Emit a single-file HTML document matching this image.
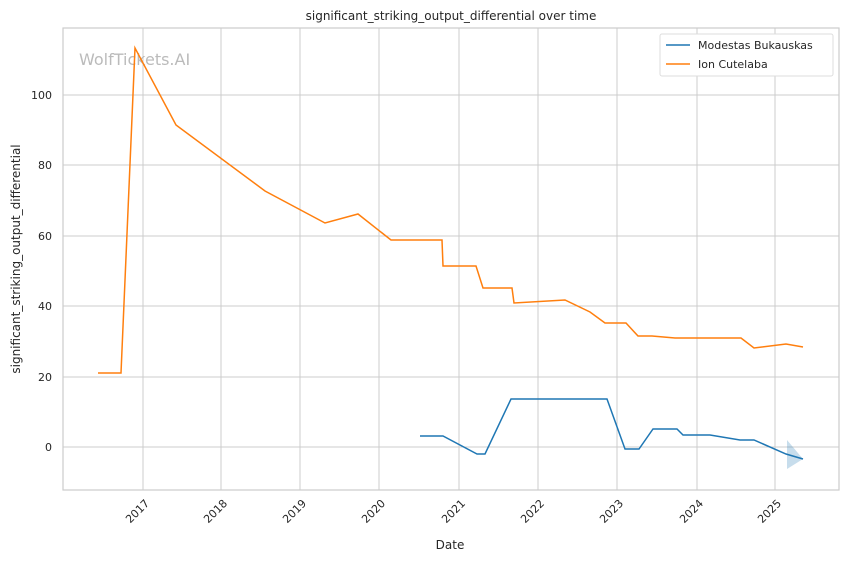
<!DOCTYPE html><html><head><style>body{margin:0;background:#fff}svg text{font-family:"DejaVu Sans","Liberation Sans",sans-serif;fill:#262626}</style></head><body>
<svg width="848" height="561" viewBox="0 0 848 561">
<rect width="848" height="561" fill="#fff"/>
<g stroke="#cccccc" stroke-width="1">
<line x1="143" y1="28" x2="143" y2="490"/><line x1="221" y1="28" x2="221" y2="490"/><line x1="300" y1="28" x2="300" y2="490"/><line x1="379" y1="28" x2="379" y2="490"/><line x1="459" y1="28" x2="459" y2="490"/><line x1="538" y1="28" x2="538" y2="490"/><line x1="617" y1="28" x2="617" y2="490"/><line x1="697" y1="28" x2="697" y2="490"/><line x1="775" y1="28" x2="775" y2="490"/>
<line x1="63" y1="447" x2="839" y2="447"/><line x1="63" y1="377" x2="839" y2="377"/><line x1="63" y1="306" x2="839" y2="306"/><line x1="63" y1="236" x2="839" y2="236"/><line x1="63" y1="165" x2="839" y2="165"/><line x1="63" y1="95" x2="839" y2="95"/>
</g>
<rect x="63" y="28" width="776" height="462" fill="none" stroke="#cccccc" stroke-width="1.2"/>
<text x="79" y="65" font-size="16" style="fill:#bbbbbb">WolfTickets.AI</text>
<polygon points="787,440 787,469 803,459" fill="#1f77b4" opacity="0.25"/>
<polyline fill="none" stroke="#ff7f0e" stroke-width="1.5" points="98,373 121,373 135,48 176,125 265,191 325,223 358,214 391,240 442,240 443,266 476,266 483,288 512,288 514,303 565,300 590,312 605,323 626,323 638,336 652,336 675,338 741,338 754,348 786,344 803,347"/>
<polyline fill="none" stroke="#1f77b4" stroke-width="1.5" points="420,436 443,436 477,454 485,454 511,399 607,399 625,449 639,449 653,429 677,429 683,435 710,435 740,440 754,440 786,454 803,459"/>
<g font-size="11" text-anchor="end">
<text x="52" y="451">0</text><text x="52" y="381">20</text><text x="52" y="310">40</text><text x="52" y="240">60</text><text x="52" y="169">80</text><text x="52" y="99">100</text>
</g>
<g font-size="11" text-anchor="end">
<text transform="translate(150,504) rotate(-45)">2017</text><text transform="translate(228,504) rotate(-45)">2018</text><text transform="translate(307,504) rotate(-45)">2019</text><text transform="translate(386,504) rotate(-45)">2020</text><text transform="translate(466,504) rotate(-45)">2021</text><text transform="translate(545,504) rotate(-45)">2022</text><text transform="translate(624,504) rotate(-45)">2023</text><text transform="translate(704,504) rotate(-45)">2024</text><text transform="translate(782,504) rotate(-45)">2025</text>
</g>
<text x="450" y="549" font-size="12" text-anchor="middle">Date</text>
<text transform="translate(20,259) rotate(-90)" font-size="12" text-anchor="middle">significant_striking_output_differential</text>
<text x="451" y="20" font-size="12" text-anchor="middle">significant_striking_output_differential over time</text>
<rect x="660" y="34" width="173" height="42" fill="#fff" stroke="#dddddd" rx="2"/>
<line x1="666" y1="45" x2="690" y2="45" stroke="#1f77b4" stroke-width="1.5"/>
<line x1="666" y1="64" x2="690" y2="64" stroke="#ff7f0e" stroke-width="1.5"/>
<text x="698" y="49" font-size="11">Modestas Bukauskas</text>
<text x="698" y="68" font-size="11">Ion Cutelaba</text>
</svg></body></html>
